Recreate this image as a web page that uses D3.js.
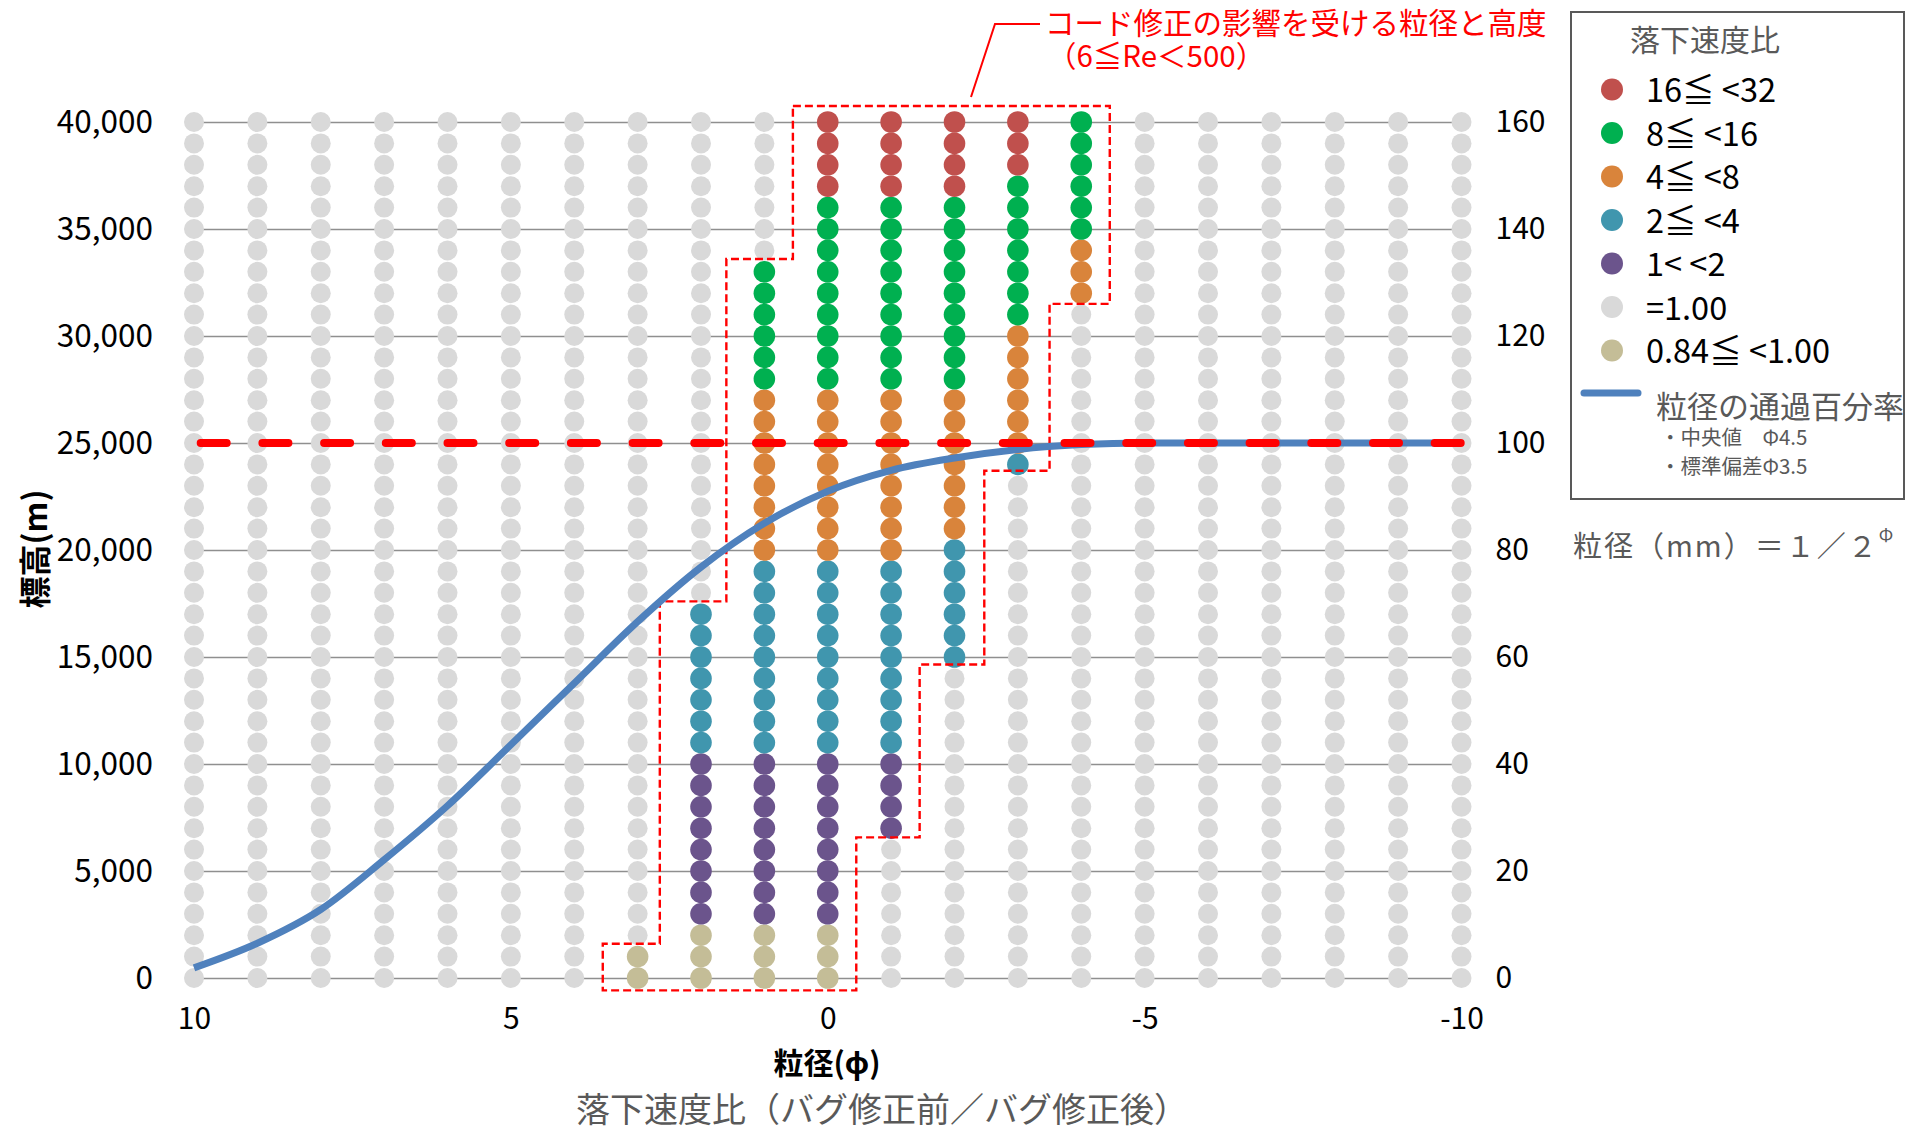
<!DOCTYPE html>
<html><head><meta charset="utf-8">
<script src="https://cdn.jsdelivr.net/npm/d3@7"></script>
<style>
body{margin:0;background:#fff;}
svg text{font-family:"Noto Sans CJK JP","Noto Sans",sans-serif;}
</style></head>
<body><svg id="c" width="1922" height="1133"></svg>
<script>
// ---- data ----
const phiColumns = [10,9,8,7,6,5,4,3,2,1,0,-1,-2,-3,-4,-5,-6,-7,-8,-9,-10];
const altitudes = [0,1000,2000,3000,4000,5000,6000,7000,8000,9000,10000,11000,12000,13000,14000,15000,16000,17000,18000,19000,20000,
  21000,22000,23000,24000,25000,26000,27000,28000,29000,30000,31000,32000,33000,34000,35000,36000,37000,38000,39000,40000];
const classLabels = ["16≦ <32","8≦ <16","4≦ <8","2≦ <4","1< <2","=1.00","0.84≦ <1.00"];
const classColors = ["#c0504d","#00b050","#d9843b","#4096ae","#6b548c","#d9d9d9","#c4bd97"];
// colored bands: phi, class index, altitude from, altitude to (others are "=1.00")
const bandPhi   = [3, 2,2,2, 1,1,1,1,1, 0,0,0,0,0,0, -1,-1,-1,-1,-1, -2,-2,-2,-2, -3,-3,-3,-3, -4,-4];
const bandClass = [6, 6,4,3, 6,4,3,2,1, 6,4,3,2,1,0,  4, 3, 2, 1, 0,  3, 2, 1, 0,  3, 2, 1, 0,  2, 1];
const bandFrom  = [0, 0,3000,11000, 0,3000,11000,20000,28000, 0,3000,11000,20000,28000,37000,
                   7000,11000,20000,28000,37000, 15000,21000,28000,37000, 24000,25000,31000,38000, 32000,35000];
const bandTo    = [1000, 2000,10000,17000, 2000,10000,19000,27000,33000, 2000,10000,19000,27000,36000,40000,
                   10000,19000,27000,36000,40000, 20000,27000,36000,40000, 24000,30000,37000,40000, 34000,40000];
// cumulative percent passing (right axis)
const curvePhi = [10,9,8,7,6,5,4,3,2,1,0,-1,-2,-3,-4,-5,-6,-7,-8,-9,-10];
const curvePct = [1.9,6.5,12.8,22.1,32.2,43.6,55.1,66.6,76.8,85.0,91.0,94.9,97.2,98.8,99.7,100,100,100,100,100,100];
// affected region outline (phi, altitude)
const regionPhi = [0.55,-4.45,-4.45,-3.5,-3.5,-2.47,-2.47,-1.45,-1.45,-0.45,-0.45,3.55,3.55,2.65,2.65,1.6,1.6,0.55];
const regionAlt = [40750,40750,31500,31500,23700,23700,14650,14650,6570,6570,-580,-580,1600,1600,17600,17600,33600,33600];
const leftTicks = [0,5000,10000,15000,20000,25000,30000,35000,40000];
const rightTicks = [0,20,40,60,80,100,120,140,160];
const xTicks = [10,5,0,-5,-10];
const thresholdAlt = 25000;

// ---- scales ----
const svg = d3.select("#c");
const x = d3.scaleLinear().domain([10,-10]).range([194,1461.5]);
const y = d3.scaleLinear().domain([0,40000]).range([978,122]);
const y2 = d3.scaleLinear().domain([0,160]).range([978,122]);

// gridlines + left axis
const gl = svg.append("g").attr("transform",`translate(${x(10)},0)`)
  .call(d3.axisLeft(y).tickValues(leftTicks).tickFormat(d3.format(","))
    .tickSizeInner(-(x(-10)-x(10))).tickSizeOuter(0).tickPadding(41));
gl.select(".domain").remove();
gl.selectAll("line").attr("stroke","#8f8f8f").attr("stroke-width",1.6);
gl.selectAll("text").attr("font-size",31.5).attr("fill","#000");
// small outer tick marks
svg.append("g").selectAll("line").data(leftTicks).join("line")
  .attr("x1",x(10)-7).attr("x2",x(10)).attr("y1",d=>y(d)).attr("y2",d=>y(d))
  .attr("stroke","#8f8f8f").attr("stroke-width",1.6);

// right axis
const gr = svg.append("g").attr("transform",`translate(${x(-10)},0)`)
  .call(d3.axisRight(y2).tickValues(rightTicks).tickSize(0).tickPadding(34));
gr.select(".domain").remove();
gr.selectAll("text").attr("font-size",30).attr("fill","#000");

// bottom axis
const gb = svg.append("g").attr("transform",`translate(0,${y(0)})`)
  .call(d3.axisBottom(x).tickValues(xTicks).tickFormat(d => String(d)).tickSize(0).tickPadding(30));
gb.select(".domain").remove();
gb.selectAll("text").attr("font-size",30).attr("fill","#000");

// dots
const colorOf = (phi, alt) => {
  for (let i = 0; i < bandPhi.length; i++) {
    if (bandPhi[i] === phi && alt >= bandFrom[i] && alt <= bandTo[i]) return bandClass[i];
  }
  return 5;
};
const dots = [];
phiColumns.forEach(p => altitudes.forEach(a => dots.push({p, a, c: colorOf(p, a)})));
svg.append("g").selectAll("circle").data(dots.filter(d=>d.c===5)).join("circle")
  .attr("cx",d=>x(d.p)).attr("cy",d=>y(d.a)).attr("r",10).attr("fill",classColors[5]);
svg.append("g").selectAll("circle").data(dots.filter(d=>d.c!==5)).join("circle")
  .attr("cx",d=>x(d.p)).attr("cy",d=>y(d.a)).attr("r",10.8).attr("fill",d=>classColors[d.c]);

// region outline
const region = regionPhi.map((p,i)=>[x(p), y(regionAlt[i])]);
svg.append("path").attr("d", d3.line()(region) + "Z")
  .attr("fill","none").attr("stroke","#ff0000").attr("stroke-width",2.4).attr("stroke-dasharray","8,4");

// curve
svg.append("path").datum(curvePhi.map((p,i)=>[p,curvePct[i]]))
  .attr("d", d3.line().x(d=>x(d[0])).y(d=>y2(d[1])).curve(d3.curveMonotoneX))
  .attr("fill","none").attr("stroke","#4f81bd").attr("stroke-width",7);

// threshold dashed line
svg.append("line").attr("x1",x(10)+6.7).attr("x2",x(-10)).attr("y1",y(thresholdAlt)).attr("y2",y(thresholdAlt))
  .attr("stroke","#ff0000").attr("stroke-width",8).attr("stroke-linecap","round").attr("stroke-dasharray","26,35.7");

// annotation
svg.append("polyline").attr("points",`971,97 995,24 1040,24`)
  .attr("fill","none").attr("stroke","#ff0000").attr("stroke-width",2);
svg.append("text").attr("x",1045).attr("y",20.5).attr("dominant-baseline","central")
  .attr("font-size",29.5).attr("fill","#ff0000").text("コード修正の影響を受ける粒径と高度");
svg.append("text").attr("x",1047).attr("y",54).attr("dominant-baseline","central")
  .attr("font-size",29.5).attr("fill","#ff0000").text("（6≦Re＜500）");

// axis titles
svg.append("text").attr("transform","translate(33,549) rotate(-90)").attr("text-anchor","middle")
  .attr("dominant-baseline","central").attr("font-size",32).attr("font-weight","bold").attr("fill","#000").text("標高(m)");
svg.append("text").attr("x",827).attr("y",1061).attr("text-anchor","middle").attr("dominant-baseline","central")
  .attr("font-size",30).attr("font-weight","bold").attr("fill","#000").text("粒径(ϕ)");
svg.append("text").attr("x",882).attr("y",1107).attr("text-anchor","middle").attr("dominant-baseline","central")
  .attr("font-size",34).attr("fill","#595959").text("落下速度比（バグ修正前／バグ修正後）");

// legend
svg.append("rect").attr("x",1571).attr("y",12).attr("width",333).attr("height",487)
  .attr("fill","#fff").attr("stroke","#595959").attr("stroke-width",2);
svg.append("text").attr("x",1630).attr("y",38).attr("dominant-baseline","central")
  .attr("font-size",30).attr("fill","#595959").text("落下速度比");
const lg = svg.append("g").selectAll("g").data(classLabels).join("g")
  .attr("transform",(d,i)=>`translate(0,${89.5 + i*43.5})`);
lg.append("circle").attr("cx",1612).attr("cy",0).attr("r",11).attr("fill",(d,i)=>classColors[i]);
lg.append("text").attr("x",1646).attr("y",-2).attr("dominant-baseline","central")
  .attr("font-size",32.5).attr("fill","#000").text(d=>d);
svg.append("line").attr("x1",1584).attr("x2",1638).attr("y1",393).attr("y2",393)
  .attr("stroke","#4f81bd").attr("stroke-width",7).attr("stroke-linecap","round");
svg.append("text").attr("x",1656).attr("y",404).attr("dominant-baseline","central")
  .attr("font-size",31).attr("fill","#595959").text("粒径の通過百分率");
svg.append("text").attr("x",1660).attr("y",436).attr("dominant-baseline","central")
  .attr("font-size",20.5).attr("fill","#595959").text("・中央値　Φ4.5");
svg.append("text").attr("x",1660).attr("y",465).attr("dominant-baseline","central")
  .attr("font-size",20.5).attr("fill","#595959").text("・標準偏差Φ3.5");
const f = svg.append("text").attr("x",1573).attr("y",544).attr("dominant-baseline","central")
  .attr("font-size",29).attr("letter-spacing",2).attr("fill","#595959");
f.append("tspan").text("粒径（mm）＝１／２");
f.append("tspan").attr("font-size",18).attr("dy",-10).text("Φ");
</script></body></html>
